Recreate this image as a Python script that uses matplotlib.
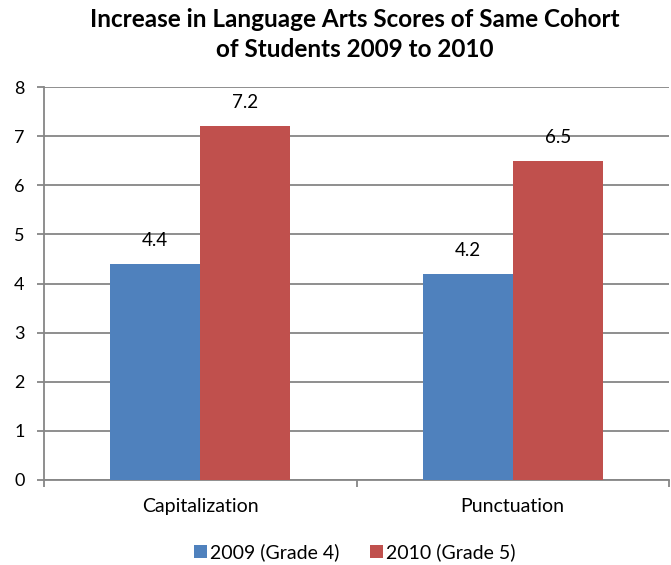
import matplotlib.pyplot as plt
import numpy as np

categories = ["Capitalization", "Punctuation"]
series_names = ["2009 (Grade 4)", "2010 (Grade 5)"]
scores_2009 = [4.4, 4.2]
scores_2010 = [7.2, 6.5]
colors = ["#4F81BD", "#C0504D"]
title_lines = ["Increase in Language Arts Scores of Same Cohort", "of Students 2009 to 2010"]

plt.rcParams['font.family'] = ['Lato', 'DejaVu Sans']

W, H = 671, 565
fig = plt.figure(figsize=(W / 100, H / 100), dpi=100)
# plot area in pixels: x 44..669, y 87..480 (from top)
ax = fig.add_axes([44 / W, (H - 480) / H, 625 / W, 393 / H])

x = np.arange(len(categories))
w = 0.288
b1 = ax.bar(x - w / 2, scores_2009, w, color=colors[0], label=series_names[0], zorder=3)
b2 = ax.bar(x + w / 2, scores_2010, w, color=colors[1], label=series_names[1], zorder=3)

for bars in (b1, b2):
    for bar in bars:
        h = bar.get_height()
        ax.annotate(f"{h:.1f}", (bar.get_x() + bar.get_width() / 2, h),
                    xytext=(0, 13), textcoords="offset points",
                    ha="center", va="baseline", fontsize=13.5)

ax.set_xlim(-0.5, len(categories) - 0.5)
ax.set_ylim(0, 8)
ax.set_yticks(range(0, 9))
ax.yaxis.grid(True, color="#868686", linewidth=1.3, zorder=0)
ax.set_axisbelow(True)

ax.set_xticks(x)
ax.set_xticklabels(categories, fontsize=14)
ax.tick_params(axis="x", length=0, pad=13)
ax.set_xticks(np.arange(-0.5, len(categories)), minor=True)
ax.tick_params(axis="x", which="minor", length=5, color="#868686", width=1.3)
ax.tick_params(axis="y", length=5, color="#868686", width=1.3, labelsize=13, pad=9)

for s in ("top", "right"):
    ax.spines[s].set_visible(False)
for s in ("left", "bottom"):
    ax.spines[s].set_color("#868686")
    ax.spines[s].set_linewidth(1.3)

# title, two lines placed by baseline, centred over the plot area
for line, base in zip(title_lines, [27, 57]):
    fig.text(354.5 / W, 1 - base / H, line, fontsize=17.5, fontweight="bold",
             ha="center", va="baseline")

fig.legend(loc="center", bbox_to_anchor=(354.5 / W, 1 - 552.5 / H), ncol=2, frameon=False,
           fontsize=14, handlelength=0.67, handleheight=0.67, handletextpad=0.15,
           columnspacing=1.6, borderpad=0, borderaxespad=0)

fig.savefig("out.png", dpi=100)
